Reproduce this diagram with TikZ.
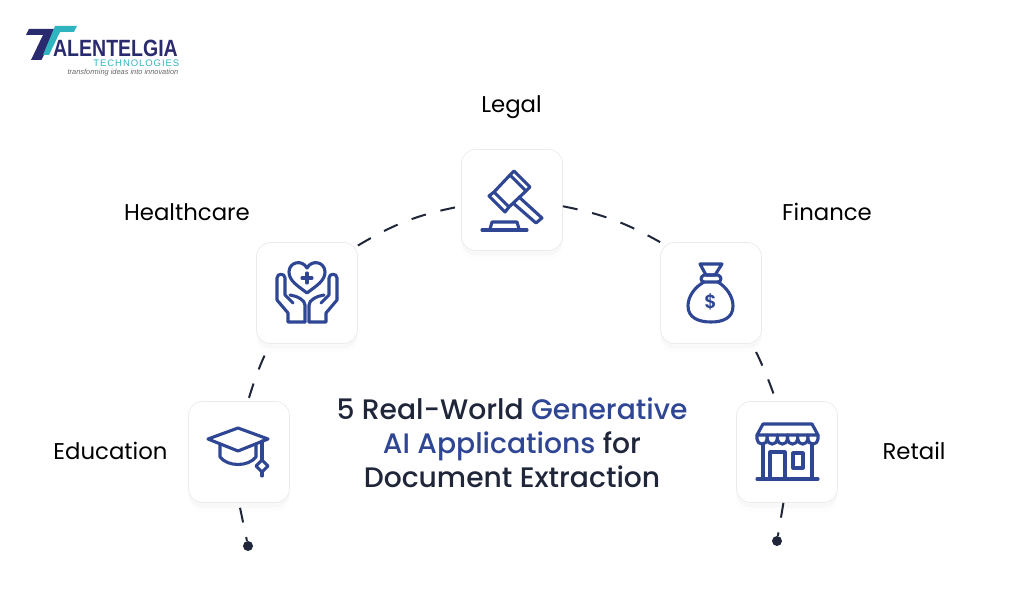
\documentclass[tikz,border=0pt]{standalone}
\usepackage{fontspec}
\setmainfont{Poppins}[BoldFont={Poppins SemiBold}]
\newfontfamily\titlefont{Poppins Medium}
\newfontfamily\logofont{Liberation Sans}
\usetikzlibrary{shadows}
\definecolor{inkdark}{HTML}{20263A}
\definecolor{iconblue}{HTML}{2F4694}
\definecolor{logonavy}{HTML}{2A2A6E}
\definecolor{logoteal}{HTML}{2FB4C0}
\tikzstyle{iconbox} = [rectangle, rounded corners=14pt, minimum width=101pt, minimum height=101pt, draw=black!8, line width=0.7pt, fill=white, drop shadow={shadow xshift=0pt, shadow yshift=-5pt, opacity=0.035}, drop shadow={shadow xshift=0pt, shadow yshift=-9pt, opacity=0.02}]
\tikzstyle{caption} = [text=black, font=\fontsize{22.8}{26}\selectfont]
\tikzstyle{dashline} = [inkdark, line width=2pt, dash pattern=on 15pt off 15pt]
\tikzstyle{endpoint} = [circle, fill=inkdark, inner sep=0pt, minimum size=10pt]
\tikzstyle{iconline} = [iconblue, line width=3.1pt, line join=round, line cap=round]
\begin{document}
\begin{tikzpicture}[x=1pt,y=-1pt]
	\useasboundingbox (0,0) rectangle (1024,612);
	\node[iconbox] (legal) at (512,200) {};
	\node[iconbox] (health) at (307,293) {};
	\node[iconbox] (finance) at (711,293) {};
	\node[iconbox] (education) at (239,452) {};
	\node[iconbox] (retail) at (787,452) {};
	\node[endpoint] (eduend) at (248,546) {};
	\node[endpoint] (retailend) at (777,541) {};

	\node[caption] (legallabel) at (511.5,107) {Legal};
	\node[caption] (healthlabel) at (187,212) {Healthcare};
	\node[caption] (financelabel) at (827,212) {Finance};
	\node[caption] (edulabel) at (110.5,451) {Education};
	\node[caption] (retaillabel) at (914,451) {Retail};
	\node[text=inkdark, align=center, font=\titlefont\fontsize{28.2}{34}\selectfont] (title) at (512,443) {5 Real-World \textcolor{iconblue}{Generative}\\\textcolor{iconblue}{AI Applications} for\\Document Extraction};

	\draw[dashline] (health.43) to[bend left=10] (legal.187);
	\draw[dashline] (legal.353) to[bend left=9] (finance.135);
	\draw[dashline, shorten <=9pt, shorten >=7pt] (finance.309) to[bend left=3] (retail.102);
	\draw[dashline, shorten <=13pt, shorten >=3pt] (health.234) to[bend right=4] (education.80);
	\draw[dashline, shorten <=5pt] (education.270) to (eduend);
	\draw[dashline] (retail.266) to (retailend);

	% legal
	\draw[iconline] (514,171) -- (530,187) -- (526,191) -- (510,175) -- cycle;
	\draw[iconline] (494,192) -- (509,207) -- (505,212) -- (489,196) -- cycle;
	\draw[iconline] (510,175) -- (494,192) (526,191) -- (509,207);
	\draw[iconline] (519,197) -- (542,218) -- (536,223) -- (513,203);
	\draw[iconline] (482,230) -- (527,230);
	\draw[iconline] (490,229) -- (492,222) -- (517,222) -- (519,229);

	% healthcare
	\draw[iconline] (307,293) .. controls (298,286) and (289,281) .. (289,272) .. controls (289,262) and (302,259) .. (307,268) .. controls (312,259) and (325,262) .. (325,272) .. controls (325,281) and (316,286) .. (307,293) -- cycle;
	\draw[iconline] (302,278) -- (312,278) (307,273) -- (307,283);
	\foreach \s in {1,-1} {
		\begin{scope}[shift={(307,0)},xscale=\s]
			\draw[iconline] (-2,322) -- (-19,322) -- (-19,313) -- (-30,300) -- (-30,278) .. controls (-30,273) and (-22,273) .. (-22,278) -- (-22,295) -- (-14,303);
			\draw[iconline] (-2,322) -- (-2,305) .. controls (-2,300) and (-10,296) .. (-17,295);
		\end{scope}
	}

	% finance
	\draw[iconline] (700,264) -- (722,264) -- (715,275) -- (706,275) -- cycle;
	\draw[iconline] (704,275) -- (718,275) .. controls (722,277) and (722,281) .. (718,282) -- (704,282) .. controls (700,281) and (700,277) .. (704,275) -- cycle;
	\draw[iconline] (704,282) .. controls (695,287) and (688,296) .. (688,306) .. controls (688,318) and (699,322) .. (711,322) .. controls (723,322) and (733,318) .. (733,306) .. controls (733,296) and (726,287) .. (718,282);
	\node[text=iconblue, font=\bfseries\fontsize{19}{19}\selectfont] (dollar) at (710.5,302) {\$};

	% education
	\draw[iconline] (238,428) -- (268,439) -- (238,451) -- (208,439) -- cycle;
	\draw[iconline] (220,445) -- (220,457) .. controls (228,467) and (248,467) .. (256,457) -- (256,445);
	\draw[iconline] (262,441) -- (262,460);
	\draw[iconline] (262,460) -- (268,466) -- (262,472) -- (256,466) -- cycle;
	\draw[iconline] (262,472) -- (262,476);

	% retail
	\draw[iconline] (763,424) -- (812,424) -- (818,435) -- (757,435) -- cycle;
	\foreach \i in {0,...,5} {
		\draw[iconline] ({757+10.17*\i},435) -- ({757+10.17*\i},439) arc[start angle=180, end angle=360, radius=5.08pt] -- ({767.17+10.17*\i},435);
	}
	\draw[iconline] (763,444) -- (763,479) (812,444) -- (812,479);
	\draw[iconline] (757,479) -- (818,479);
	\draw[iconline] (770,479) -- (770,452) -- (785,452) -- (785,479);
	\draw[iconline] (793,453) rectangle (803,468);

	% logo
	\fill[logonavy] (29,29) -- (57,29) -- (41.5,60) -- (31,60) -- (43,35) -- (26,35) -- cycle;
	\fill[logoteal] (55,26) -- (77,26) -- (74,32) -- (60,32) -- (49,55) -- (43,55) -- cycle;
	\node[text=logonavy, font=\logofont\bfseries\fontsize{23.5}{24}\selectfont, anchor=base west, inner sep=0pt, xscale=0.83] (logoname) at (53,57) {ALENTELGIA};
	\node[text=logoteal, font=\logofont\addfontfeature{LetterSpace=10}\fontsize{9.5}{10}\selectfont, anchor=base east, inner sep=0pt] (logosub) at (179.5,67) {TECHNOLOGIES};
	\node[text=black!60, font=\logofont\itshape\fontsize{7.4}{8}\selectfont, anchor=base east, inner sep=0pt] (logotag) at (178.5,75) {transforming ideas into innovation};
\end{tikzpicture}
\end{document}
